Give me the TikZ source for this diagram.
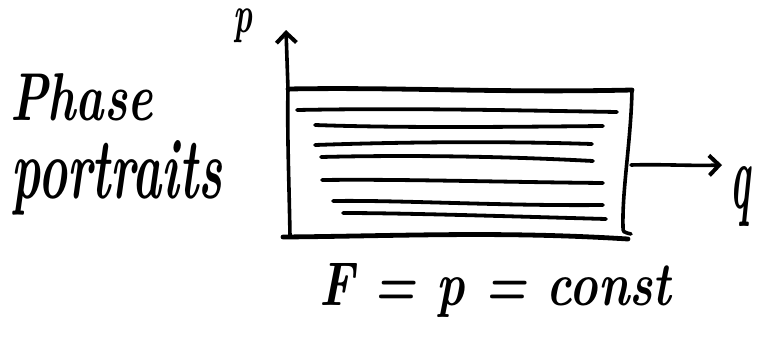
\documentclass[tikz,border=0pt]{standalone}
\usetikzlibrary{arrows.meta}
\begin{document}
\begin{tikzpicture}[x=1pt,y=-1pt,
  ink/.style={line width=4.8pt,line cap=round,line join=round},
  flow/.style={line width=3.8pt,line cap=round},
  hand/.style={inner sep=0pt,outer sep=0pt,font=\bfseries\itshape},
  barb/.style={-{Straight Barb[length=10pt,width=20pt,line width=4pt]}},
  thinink/.style={line width=3.6pt,line cap=round,line join=round}]
\useasboundingbox (0,0) rectangle (757,338);
\fill[white] (0,0) rectangle (757,338);

% labels
\node[hand,anchor=base west] (phase) at (10,120) {\resizebox{143pt}{47pt}{Phase}};
\node[hand,anchor=base west] (portraits) at (12,198) {\resizebox{210pt}{58pt}{portraits}};
\node[hand,anchor=base west] (eq) at (319,305) {\resizebox{352pt}{42pt}{F = p = const}};
\node[hand,anchor=north west] (plabel) at (233,9) {\resizebox*{19pt}{34pt}{p}};
\node[hand,anchor=north west] (qlabel) at (730,166) {\resizebox*{20pt}{60pt}{q}};

% box corners and axis tips
\coordinate (bl) at (290,236);
\coordinate (tl) at (288,89);
\coordinate (tr) at (632,90);
\coordinate (br) at (623,227);
\coordinate (ptip) at (286,30);
\coordinate (bl0) at (283,237);
\coordinate (br0) at (628,239);
\coordinate (qstart) at (631,165);
\coordinate (qtip) at (722,165);

% p axis (left edge continued)
\draw[thinink,barb] (bl) .. controls (289,180) and (287,130) .. (tl) -- (ptip);
% top edge
\draw[ink] (tl) .. controls (400,87) and (500,93) .. (tr);
% right edge with hook
\draw[thinink] (tr) .. controls (631,140) and (622,190) .. (br) .. controls (623,232) .. (631,234);
% bottom edge
\draw[ink] (bl0) .. controls (400,236) and (500,231) .. (br0);
% q axis
\draw[thinink,barb] (qstart) .. controls (660,164) and (690,166) .. (qtip);

% trajectories p = const
\draw[flow] (297,110) .. controls (400,108) and (500,110) .. (617,112);
\draw[flow] (315,125) .. controls (400,128) and (500,127) .. (603,126);
\draw[flow] (315,145) .. controls (400,142) and (500,141) .. (592,144);
\draw[flow] (321,157) .. controls (400,155) and (500,156) .. (593,161);
\draw[flow] (322,180) .. controls (400,179) and (500,182) .. (603,183);
\draw[flow] (333,201) .. controls (400,200) and (500,206) .. (603,205);
\draw[flow] (343,213) .. controls (400,213) and (500,216) .. (606,219);
\end{tikzpicture}
\end{document}
